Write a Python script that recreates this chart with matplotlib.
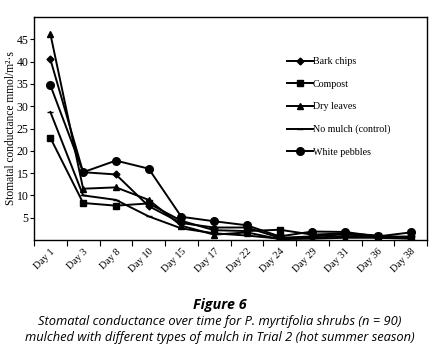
import matplotlib
matplotlib.use("Agg")
import matplotlib.pyplot as plt
import numpy as np

days = ["Day 1", "Day 3", "Day 8", "Day 10", "Day 15", "Day 17", "Day 22",
        "Day 24", "Day 29", "Day 31", "Day 36", "Day 38"]
bark_chips = [40.5, 15.2, 14.7, 7.6, 3.8, 2.8, 2.8, 0.5, 0.8, 1.3, 0.7, 0.8]
compost = [22.9, 8.3, 7.7, 8.2, 4.3, 2.2, 2.0, 2.3, 1.2, 1.5, 1.0, 0.5]
dry_leaves = [46.2, 11.5, 11.8, 9.0, 3.2, 1.2, 1.7, 0.2, 0.3, 0.5, 0.5, 0.3]
no_mulch = [28.7, 10.0, 9.0, 5.3, 2.6, 1.5, 1.0, 0.3, 0.5, 0.9, 0.6, 0.4]
white_pebbles = [34.7, 15.2, 17.8, 16.0, 5.2, 4.2, 3.3, 0.8, 1.9, 1.8, 0.8, 1.7]

series = [
    ("Bark chips", bark_chips, "D", 3.5),
    ("Compost", compost, "s", 5),
    ("Dry leaves", dry_leaves, "^", 5),
    ("No mulch (control)", no_mulch, "_", 5),
    ("White pebbles", white_pebbles, "o", 5.5),
]

serif = ["Liberation Serif", "DejaVu Serif"]

fig = plt.figure(figsize=(4.4, 3.57), dpi=100)
ax = fig.add_axes([34/440, 1-240/357, (427-34)/440, (240-17)/357])

x = np.arange(len(days))
handles = []
for name, vals, mk, ms in series:
    h, = ax.plot(x, vals, color="black", lw=1.4, marker=mk, markersize=ms,
                 label=name)
    handles.append(h)

ax.set_xlim(-0.5, len(days) - 0.5)
ax.set_ylim(0, 50)
yt = [5, 10, 15, 20, 25, 30, 35, 40, 45]
ax.set_yticks(yt)
ax.set_yticklabels([str(v) for v in yt], family=serif, fontsize=8.5)
ax.set_xticks(np.arange(len(days) + 1) - 0.5)
ax.set_xticklabels([])
ax.set_xticks(x, minor=True)
ax.set_xticklabels(days, minor=True, rotation=45, ha="right",
                   rotation_mode="anchor", family=serif, fontsize=7.3)
ax.tick_params(axis="x", which="minor", length=0, pad=5)
ax.tick_params(axis="x", which="major", length=4, direction="out", width=0.8)
ax.tick_params(axis="y", length=3, direction="out", width=0.8, pad=1)
for s in ax.spines.values():
    s.set_linewidth(1.0)

ax.set_ylabel("Stomatal conductance mmol/m\u00b2\u00b7s", family=serif,
              fontsize=8.3, labelpad=0)

leg = ax.legend(handles=handles, loc="upper left",
                bbox_to_anchor=(0.62, 0.86), frameon=False,
                prop={"family": serif, "size": 7.2}, handlelength=2.6,
                handletextpad=0.0, labelspacing=1.35)

fig.text(0.5, 1-305/357, "Figure 6", ha="center", va="center",
         fontsize=10.3, fontweight="bold", style="italic", family="Open Sans")
fig.text(0.5, 1-322/357,
         "Stomatal conductance over time for P. myrtifolia shrubs (n = 90)",
         ha="center", va="center", fontsize=9.3, style="italic",
         family="Open Sans")
fig.text(0.5, 1-338/357,
         "mulched with different types of mulch in Trial 2 (hot summer season)",
         ha="center", va="center", fontsize=9.3, style="italic",
         family="Open Sans")

fig.savefig("out.png", dpi=100)
